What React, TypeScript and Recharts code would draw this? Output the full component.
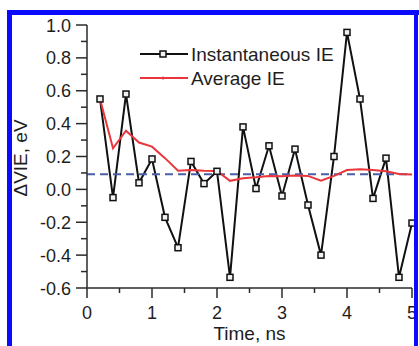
import React from "react";
import {
  LineChart,
  Line,
  XAxis,
  YAxis,
  ReferenceLine,
  Legend,
} from "recharts";

const times = [
  0.2, 0.4, 0.6, 0.8, 1.0, 1.2, 1.4, 1.6, 1.8, 2.0, 2.2, 2.4, 2.6, 2.8, 3.0,
  3.2, 3.4, 3.6, 3.8, 4.0, 4.2, 4.4, 4.6, 4.8, 5.0,
];
const instantIE = [
  0.55, -0.05, 0.58, 0.04, 0.185, -0.17, -0.355, 0.17, 0.035, 0.11, -0.535,
  0.38, 0.005, 0.265, -0.04, 0.245, -0.095, -0.4, 0.2, 0.955, 0.55, -0.055,
  0.19, -0.535, -0.205,
];
const averageIE = [
  0.55, 0.25, 0.357, 0.285, 0.26, 0.19, 0.114, 0.118, 0.114, 0.112, 0.052,
  0.068, 0.074, 0.082, 0.08, 0.085, 0.082, 0.053, 0.082, 0.118, 0.123, 0.118,
  0.11, 0.094, 0.09,
];
const referenceIE = 0.092;

const xTicks = [0, 0.5, 1, 1.5, 2, 2.5, 3, 3.5, 4, 4.5, 5];
const yTicks = [
  -0.6, -0.5, -0.4, -0.3, -0.2, -0.1, 0, 0.1, 0.2, 0.3, 0.4, 0.5, 0.6, 0.7,
  0.8, 0.9, 1.0,
];

const data = times.map((t, i) => ({
  t,
  inst: instantIE[i],
  avg: averageIE[i],
}));

const FONT = '"Liberation Sans", Arial, sans-serif';
const AXIS = "#2b2b2b";
const TEXT = "#1e1e1e";
const RED = "#e8363c";

const isMajorX = (v: number) => Math.abs(v - Math.round(v)) < 1e-6;
const isMajorY = (v: number) => Math.abs(Math.round(v * 10)) % 2 === 0;

const BottomTick = (p: any) => {
  const { x, y, payload } = p;
  const major = isMajorX(payload.value);
  return (
    <g>
      <line x1={x} x2={x} y1={y} y2={y + (major ? 10 : 5)} stroke={AXIS} strokeWidth={1.5} />
      {major && (
        <text x={x} y={y + 31} textAnchor="middle" fontSize={18} fontFamily={FONT} fill={TEXT}>
          {payload.value}
        </text>
      )}
    </g>
  );
};

const TopTick = (p: any) => {
  const { x, y, payload } = p;
  const major = isMajorX(payload.value);
  return <line x1={x} x2={x} y1={y} y2={y + (major ? 10 : 6)} stroke={AXIS} strokeWidth={1.5} />;
};

const LeftTick = (p: any) => {
  const { x, y, payload } = p;
  const major = isMajorY(payload.value);
  return (
    <g>
      <line x1={x} x2={x - (major ? 11 : 6)} y1={y} y2={y} stroke={AXIS} strokeWidth={1.5} />
      {major && (
        <text x={x - 16} y={y + 6.5} textAnchor="end" fontSize={18} fontFamily={FONT} fill={TEXT}>
          {payload.value.toFixed(1)}
        </text>
      )}
    </g>
  );
};

const RightTick = (p: any) => {
  const { x, y, payload } = p;
  const major = isMajorY(payload.value);
  return <line x1={x} x2={x - (major ? 10 : 6)} y1={y} y2={y} stroke={AXIS} strokeWidth={1.5} />;
};

const SquareDot = (p: any) => {
  const { cx, cy, index } = p;
  if (cx == null || cy == null) return <g key={index} />;
  return (
    <rect key={index} x={cx - 3} y={cy - 3} width={6} height={6} fill="#f2f2f2" stroke="#111" strokeWidth={1.5} />
  );
};

const renderLegend = () => (
  <svg width={220} height={52} style={{ display: "block" }}>
    <line x1={5} x2={53} y1={14} y2={14} stroke="#111" strokeWidth={2} />
    <rect x={25} y={11} width={6} height={6} fill="#f2f2f2" stroke="#111" strokeWidth={1.5} />
    <text x={56} y={20.5} fontSize={19} fontFamily={FONT} fill={TEXT}>
      Instantaneous IE
    </text>
    <line x1={5} x2={53} y1={38} y2={38} stroke={RED} strokeWidth={2} />
    <circle cx={28} cy={38} r={1.5} fill={RED} />
    <text x={56} y={44.5} fontSize={19} fontFamily={FONT} fill={TEXT}>
      Average IE
    </text>
  </svg>
);

const App: React.FC = () => {
  return (
    <div
      style={{
        position: "absolute",
        left: 0,
        top: 0,
        width: 419,
        height: 346,
        background: "#fff",
        overflow: "hidden",
      }}
    >
      <LineChart
        width={419}
        height={346}
        data={data}
        margin={{ top: 25, right: 7, bottom: 0, left: 0 }}
      >
        <XAxis
          xAxisId="bottom"
          dataKey="t"
          type="number"
          domain={[0, 5]}
          ticks={xTicks}
          interval={0}
          height={58}
          tickSize={0}
          tickMargin={0}
          tickLine={false}
          tick={<BottomTick />}
          axisLine={{ stroke: AXIS, strokeWidth: 1.5 }}
          label={{
            content: () => (
              <text x={249.5} y={340} textAnchor="middle" fontSize={19} fontFamily={FONT} fill={TEXT}>
                Time, ns
              </text>
            ),
          }}
        />
        <XAxis
          xAxisId="top"
          orientation="top"
          dataKey="t"
          type="number"
          domain={[0, 5]}
          ticks={xTicks}
          interval={0}
          height={0}
          tickSize={0}
          tickMargin={0}
          tickLine={false}
          tick={<TopTick />}
          axisLine={{ stroke: AXIS, strokeWidth: 1.5 }}
        />
        <YAxis
          yAxisId="left"
          type="number"
          domain={[-0.6, 1.0]}
          ticks={yTicks}
          interval={0}
          width={87}
          tickSize={0}
          tickMargin={0}
          tickLine={false}
          tick={<LeftTick />}
          axisLine={{ stroke: AXIS, strokeWidth: 1.5 }}
          label={{
            content: () => (
              <text
                x={0}
                y={0}
                transform="translate(26.5,158) rotate(-90)"
                textAnchor="middle"
                fontSize={19}
                fontFamily={FONT}
                fill={TEXT}
              >
                ΔVIE, eV
              </text>
            ),
          }}
        />
        <YAxis
          yAxisId="right"
          orientation="right"
          type="number"
          domain={[-0.6, 1.0]}
          ticks={yTicks}
          interval={0}
          width={0}
          tickSize={0}
          tickMargin={0}
          tickLine={false}
          tick={<RightTick />}
          axisLine={{ stroke: AXIS, strokeWidth: 1.5 }}
        />
        <Legend
          layout="vertical"
          align="center"
          verticalAlign="middle"
          content={renderLegend}
          wrapperStyle={{ left: 135, top: 40, width: 220, height: 52 }}
        />
        <Line
          xAxisId="bottom"
          yAxisId="left"
          dataKey="inst"
          stroke="#111"
          strokeWidth={2}
          dot={SquareDot}
          activeDot={false}
          isAnimationActive={false}
        />
        <ReferenceLine
          xAxisId="bottom"
          yAxisId="left"
          y={referenceIE}
          stroke="#4b5ea8"
          strokeWidth={1.8}
          strokeDasharray="8 5"
        />
        <Line
          xAxisId="bottom"
          yAxisId="left"
          dataKey="avg"
          stroke={RED}
          strokeWidth={2}
          dot={false}
          activeDot={false}
          isAnimationActive={false}
        />
      </LineChart>
      <div style={{ position: "absolute", left: 7, top: 10, width: 412, height: 5, background: "#0a0aff" }} />
      <div style={{ position: "absolute", left: 7, top: 10, width: 5, height: 336, background: "#0a0aff" }} />
      <div style={{ position: "absolute", left: 414, top: 10, width: 4, height: 336, background: "#0a0aff" }} />
    </div>
  );
};

export default App;
